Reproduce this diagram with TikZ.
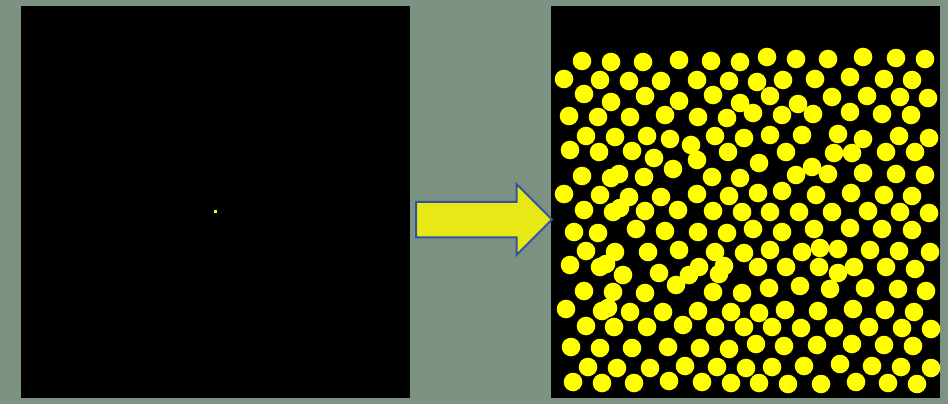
\documentclass[tikz,border=0pt]{standalone}
\usepackage{xcolor}
\usepackage{tikz}
\usetikzlibrary{shapes.arrows,positioning}
\definecolor{photogreen}{RGB}{124,146,131}
\definecolor{arrowyellow}{RGB}{232,232,22}
\definecolor{arrowblue}{RGB}{48,84,158}
\definecolor{dotyellow}{RGB}{255,255,0}
\tikzset{
  imgpanel/.style={
    fill=black,
    inner sep=0pt,
    outer sep=0pt,
    minimum width=389pt,
    minimum height=392pt
  },
  seeddot/.style={
    fill=dotyellow,
    inner sep=0pt,
    minimum size=3pt
  },
  bigarrow/.style={
    single arrow,
    draw=arrowblue,
    line width=2pt,
    fill=arrowyellow,
    inner xsep=0pt,
    inner ysep=16.75pt,
    outer sep=0pt,
    minimum height=136pt,
    minimum width=69pt,
    single arrow head extend=17.75pt
  },
  particle/.style={
    fill=dotyellow
  }
}

\begin{document}
\begin{tikzpicture}[x=1pt,y=-1pt]
    \useasboundingbox (0,0) rectangle (948,404);
    \fill[photogreen] (0,0) rectangle (948,404);

    \node[imgpanel] (before) at (215.5,202) {};
    \node[seeddot] (seed) at (215.5,211) {};

    \node[imgpanel] (after) at (745.5,202) {};

    \node[bigarrow, anchor=tail] (grow) at (416,219.5) {};

    % grown particles
    \foreach \px/\py in {
      582/61, 611/62, 643/62, 679/60, 711/61, 740/62, 767/57, 796/59, 828/59, 863/57, 896/58, 925/59,
      564/79, 600/80, 629/81, 661/81, 697/80, 729/81, 757/82, 783/80, 815/79, 850/77, 884/79, 912/80,
      584/94, 611/102, 645/96, 679/101, 713/95, 740/103, 770/96, 798/104, 832/97, 867/96, 900/97, 928/98,
      569/116, 598/117, 630/117, 665/115, 698/117, 727/118, 753/113, 782/115, 813/114, 850/112, 882/114, 911/115,
      586/136, 615/137, 647/136, 670/139, 691/145, 715/136, 744/138, 770/135, 802/135, 838/134, 863/139, 899/136, 929/138,
      570/150, 599/152, 632/151, 654/158, 697/160, 728/152, 759/163, 786/152, 834/153, 852/153, 886/152, 915/152,
      582/176, 611/178, 619/174, 644/177, 673/169, 712/177, 740/178, 796/175, 812/167, 828/174, 863/173, 896/174, 925/175,
      564/194, 600/195, 629/197, 661/197, 697/194, 729/196, 758/193, 782/191, 816/195, 851/193, 884/195, 912/196,
      584/210, 613/212, 620/208, 645/211, 678/210, 713/211, 742/212, 770/212, 799/212, 832/212, 868/211, 900/212, 929/213,
      574/232, 598/233, 636/229, 665/231, 698/232, 727/233, 753/229, 782/232, 814/229, 850/228, 882/229, 912/230,
      586/251, 615/252, 648/252, 679/250, 715/252, 744/253, 770/250, 802/252, 820/248, 838/249, 870/250, 899/251, 930/252,
      570/265, 600/267, 606/264, 623/275, 659/273, 689/275, 699/267, 719/274, 724/266, 758/267, 786/267, 819/267, 838/273, 854/267, 886/267, 915/269,
      584/291, 613/292, 645/293, 676/285, 713/292, 742/293, 769/288, 800/286, 830/289, 865/288, 898/289, 926/291,
      566/309, 602/311, 608/308, 630/312, 663/312, 698/311, 731/312, 759/313, 785/310, 818/311, 853/309, 885/310, 914/312,
      586/326, 614/327, 647/327, 683/325, 715/327, 744/327, 772/327, 801/328, 834/328, 869/327, 902/328, 931/329,
      571/347, 600/348, 632/348, 668/347, 700/348, 729/349, 756/344, 784/346, 817/345, 852/344, 884/345, 913/346,
      588/367, 617/368, 650/368, 685/366, 717/367, 746/368, 772/367, 804/366, 840/364, 872/366, 901/367, 931/368,
      573/382, 602/383, 634/383, 669/381, 702/382, 731/383, 759/383, 788/384, 821/384, 856/382, 888/383, 917/384}
      \fill[particle] (\px,\py) circle (9.3pt);
\end{tikzpicture}
\end{document}
